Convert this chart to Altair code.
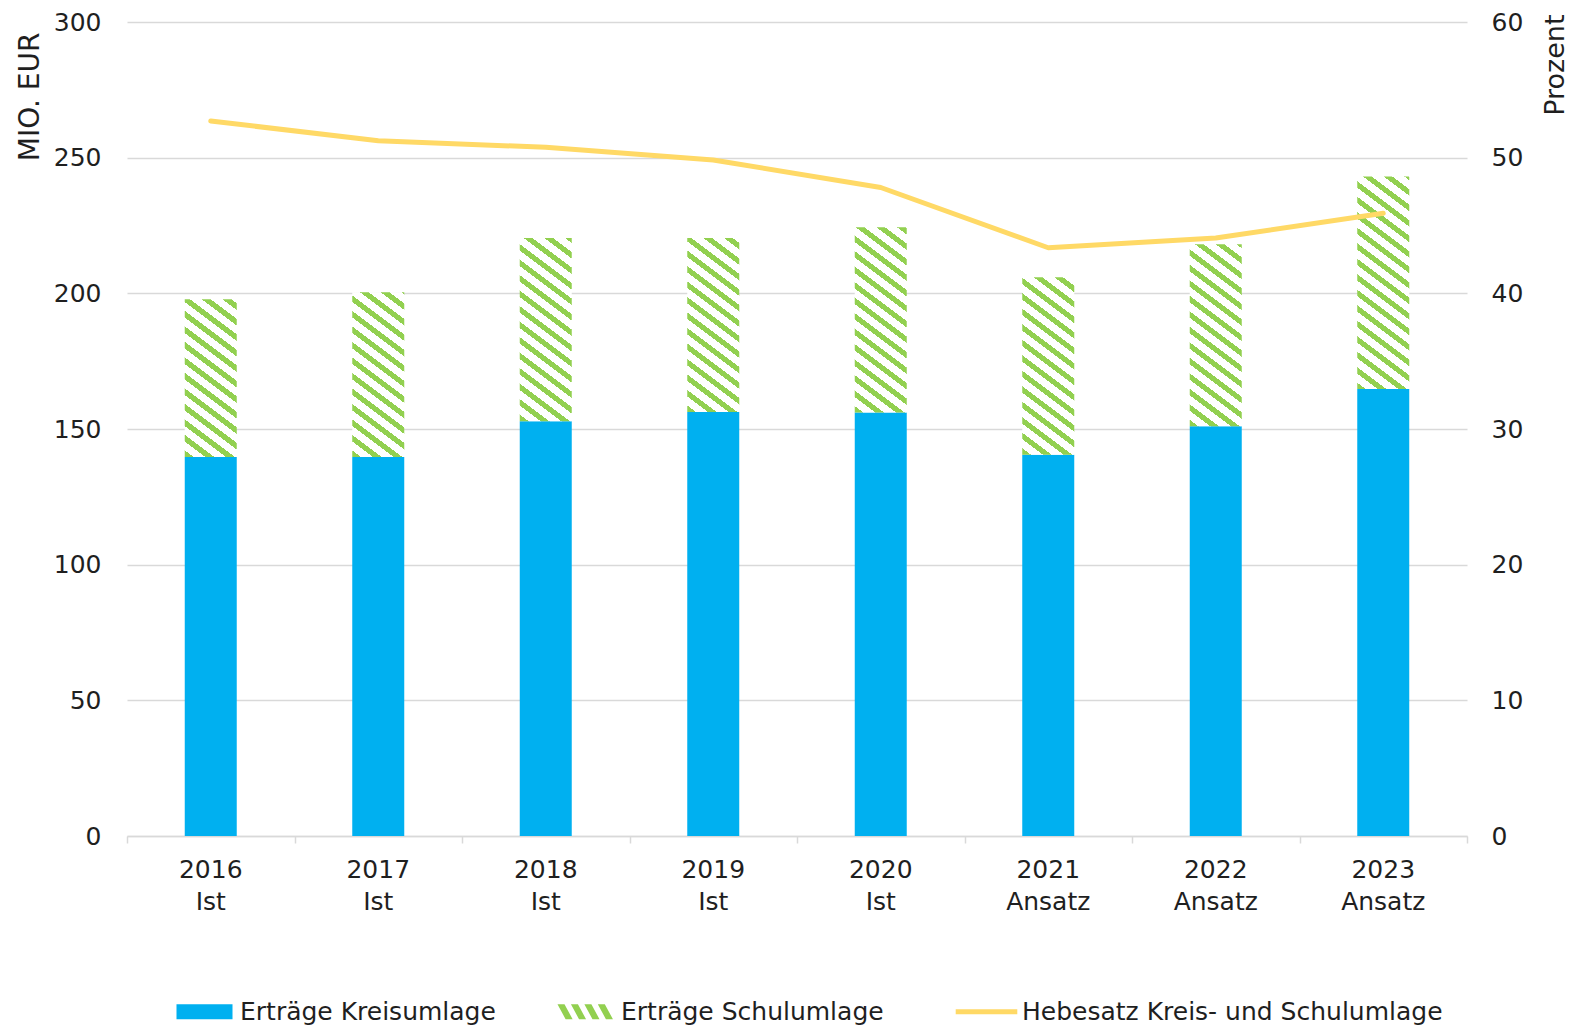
import altair as alt
import pandas as pd

# ---------------- data ----------------
jahre = ["2016", "2017", "2018", "2019", "2020", "2021", "2022", "2023"]
status = ["Ist", "Ist", "Ist", "Ist", "Ist", "Ansatz", "Ansatz", "Ansatz"]
kreisumlage = [139.7, 139.7, 152.9, 156.3, 156.1, 140.5, 151.0, 164.7]
schulumlage = [58.1, 60.7, 67.5, 64.1, 68.3, 65.4, 67.1, 78.4]
hebesatz = [52.7, 51.25, 50.76, 49.83, 47.8, 43.36, 44.08, 45.9]

S1 = "Erträge Kreisumlage"
S2 = "Erträge Schulumlage"
S3 = "Hebesatz Kreis- und Schulumlage"

labels = [f"{j}\n{s}" for j, s in zip(jahre, status)]
df = pd.DataFrame({
    "idx": list(range(len(jahre))),
    "kat": labels,
    "kreis": kreisumlage,
    "schul": schulumlage,
    "total": [k + s for k, s in zip(kreisumlage, schulumlage)],
    "hebesatz": hebesatz,
    "serie": [S1] * len(jahre),
})

# ---------------- style ----------------
BLUE = "#00B0F0"
GREEN = "#92D050"
YELLOW = "#FFD966"
GRID = "#D9D9D9"
TXT = "#1f1f1f"
FONT = "DejaVu Sans"

W_PLOT = 1340
H_PLOT = 814
Y_MAX = 300
PX_PER_UNIT = H_PLOT / Y_MAX
BAR_W = 52


def hatch_gradient(value, m=0.75, pv=15.5, g=0.42):
    """diagonal stripes as a hard-stop linear gradient (bbox units)"""
    W = float(BAR_W)
    H = value * PX_PER_UNIT
    a = (m * W + H) / (m * m * W * W + H * H)
    x2 = a * m * W
    y2 = 1 - a * H
    T = pv / (m * W + H)
    stops = []
    k = 0
    while k * T < 1:
        s0 = k * T
        s1 = min(1.0, s0 + g * T)
        s2 = min(1.0, (k + 1) * T)
        stops += [
            alt.GradientStop(offset=s0, color=GREEN),
            alt.GradientStop(offset=s1, color=GREEN),
            alt.GradientStop(offset=s1, color="#ffffff"),
            alt.GradientStop(offset=s2, color="#ffffff"),
        ]
        k += 1
    return alt.LinearGradient(gradient="linear", stops=stops,
                              x1=0, y1=1, x2=x2, y2=y2)


# legend symbol paths (unit = half of 56px)
hh = 0.268
parts = []
for k in range(4):
    x0 = -1 + 0.48 * k
    parts.append(f"M{x0:.3f},{-hh}L{x0+0.25:.3f},{-hh}L{x0+0.54:.3f},{hh}L{x0+0.29:.3f},{hh}Z")
HATCH_PATH = "".join(parts)
RECT_PATH = f"M-1,{-hh}H1V{hh}H-1Z"
LINE_PATH = "M-1.1,0H1.1"

shape_expr = (f"datum.value === '{S2}' ? '{HATCH_PATH}' : "
              f"(datum.value === '{S3}' ? '{LINE_PATH}' : '{RECT_PATH}')")
sw_expr = f"datum.value === '{S3}' ? 5 : 0"
sc_expr = f"datum.value === '{S3}' ? '{YELLOW}' : 'transparent'"

legend = alt.Legend(
    title=None,
    orient="none",
    direction="horizontal",
    legendX=49,
    legendY=977,
    symbolSize=3136,
    symbolOffset=16,
    symbolType=alt.ExprRef(expr=shape_expr),
    symbolStrokeWidth=alt.ExprRef(expr=sw_expr),
    symbolStrokeColor=alt.ExprRef(expr=sc_expr),
    symbolOpacity=1,
    labelFont=FONT,
    labelFontSize=25,
    labelColor=TXT,
    labelOffset=23,
    columnPadding=61,
    padding=0,
    labelLimit=600,
)

color = alt.Color(
    "serie:N",
    scale=alt.Scale(domain=[S1, S2, S3], range=[BLUE, GREEN, YELLOW]),
    legend=legend,
)

x_band = alt.X(
    "kat:N",
    sort=labels,
    scale=alt.Scale(type="band", paddingInner=0, paddingOuter=0),
    axis=alt.Axis(
        title=None, orient="bottom", domain=False, ticks=False, grid=False,
        labelAngle=0, labelPadding=21, labelFont=FONT, labelFontSize=25,
        labelColor=TXT, labelLineHeight=32,
        labelExpr="split(datum.value, '\\n')",
    ),
)

y_left_axis = alt.Axis(
    values=[0, 50, 100, 150, 200, 250, 300],
    title="MIO. EUR", titleFont=FONT, titleFontSize=28, titleFontWeight="normal",
    titleColor=TXT, titleAngle=270, titleAlign="right", titleBaseline="middle",
    titleX=-97, titleY=10,
    grid=True, gridColor=GRID, gridWidth=1.5,
    domain=False, ticks=False,
    labelPadding=26, labelFont=FONT, labelFontSize=25, labelColor=TXT,
)
y_scale = alt.Scale(domain=[0, Y_MAX], nice=False, zero=True)

kreis_bars = alt.Chart(df).mark_bar(size=BAR_W).encode(
    x=x_band,
    y=alt.Y("kreis:Q", scale=y_scale, axis=y_left_axis),
    color=color,
)

hatch_layers = []
for i in range(len(jahre)):
    hatch_layers.append(
        alt.Chart(df).transform_filter(alt.datum.idx == i)
        .mark_bar(size=BAR_W, color=hatch_gradient(schulumlage[i]))
        .encode(
            x=x_band,
            y=alt.Y("kreis:Q", scale=y_scale, axis=y_left_axis),
            y2="total:Q",
        )
    )

bars = alt.layer(kreis_bars, *hatch_layers)

line = alt.Chart(df).transform_calculate(serie=f"'{S3}'").mark_line(
    strokeWidth=5, strokeCap="round", strokeJoin="round"
).encode(
    x=alt.X("kat:N", sort=labels, axis=None),
    y=alt.Y(
        "hebesatz:Q",
        scale=alt.Scale(domain=[0, 60], nice=False, zero=True),
        axis=alt.Axis(
            orient="right", values=[0, 10, 20, 30, 40, 50, 60],
            title="Prozent", titleFont=FONT, titleFontSize=27,
            titleFontWeight="normal", titleColor=TXT, titleAngle=270,
            titleAlign="right", titleBaseline="middle", titleX=88, titleY=-8,
            grid=False, domain=False, ticks=False,
            labelPadding=24, labelFont=FONT, labelFontSize=25, labelColor=TXT,
        ),
    ),
    color=color,
)

ticks_layer = alt.Chart(df).mark_point(opacity=0).encode(
    x=alt.X(
        "idx:Q",
        scale=alt.Scale(domain=[0, len(jahre)], nice=False, zero=False),
        axis=alt.Axis(
            orient="bottom", values=list(range(len(jahre) + 1)), labels=False,
            ticks=True, tickSize=7, tickColor=GRID, tickWidth=1.5,
            domain=True, domainColor=GRID, domainWidth=1.5, grid=False, title=None,
        ),
    ),
)

chart = (
    alt.layer(bars, line, ticks_layer)
    .resolve_scale(x="independent", y="independent")
    .properties(
        width=W_PLOT,
        height=H_PLOT,
        autosize=alt.AutoSizeParams(type="none"),
        padding={"left": 119, "top": 14, "right": 104, "bottom": 189},
        background="white",
    )
    .configure_view(stroke=None)
)

chart.save("out.html", embed_options={"renderer": "svg", "actions": False})
